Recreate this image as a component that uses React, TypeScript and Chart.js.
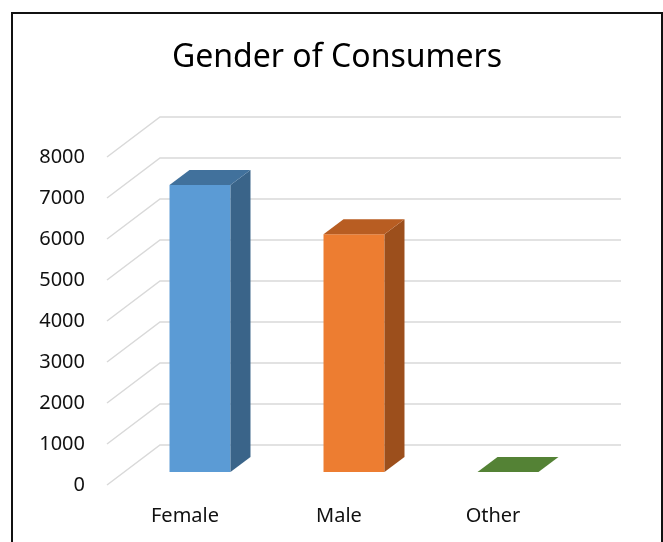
import React, { useEffect, useRef } from "react";
import { Chart, registerables } from "chart.js";

Chart.register(...registerables);

const titleText = "Gender of Consumers";
const categories = ["Female", "Male", "Other"];
const values = [7000, 5800, 0];
const yMin = 0;
const yMax = 8000;
const yStep = 1000;
const frontColors = ["#5B9BD5", "#ED7D31", "#70AD47"];
const topColors = ["#41719C", "#B85D22", "#548235"];
const sideColors = ["#3A6489", "#9C4F1C", "#4A7530"];

const FONT = "'Noto Sans', 'DejaVu Sans', sans-serif";

const threeD = {
  id: "threeD",
  beforeDatasetsDraw(chart: any) {
    const { ctx, chartArea, scales } = chart;
    const y = scales.y;
    ctx.save();
    ctx.strokeStyle = "#d9d9d9";
    ctx.lineWidth = 1.5;
    y.ticks.forEach((t: any) => {
      const py = y.getPixelForValue(t.value);
      ctx.beginPath();
      ctx.moveTo(chartArea.left - 16, py + 13);
      ctx.lineTo(chartArea.left + 37, py - 27);
      ctx.lineTo(chartArea.right + 36, py - 27);
      ctx.stroke();
    });
    ctx.restore();
  },
  afterDatasetsDraw(chart: any) {
    const { ctx } = chart;
    const meta = chart.getDatasetMeta(0);
    const dx = 20;
    const dy = -15;
    ctx.save();
    meta.data.forEach((bar: any, i: number) => {
      const { x, y, base, width } = bar.getProps(["x", "y", "base", "width"], true);
      const l = x - width / 2;
      const r = x + width / 2;
      ctx.fillStyle = sideColors[i];
      ctx.beginPath();
      ctx.moveTo(r, y);
      ctx.lineTo(r + dx, y + dy);
      ctx.lineTo(r + dx, base + dy);
      ctx.lineTo(r, base);
      ctx.closePath();
      ctx.fill();
      ctx.fillStyle = topColors[i];
      ctx.beginPath();
      ctx.moveTo(l, y);
      ctx.lineTo(l + dx, y + dy);
      ctx.lineTo(r + dx, y + dy);
      ctx.lineTo(r, y);
      ctx.closePath();
      ctx.fill();
    });
    ctx.restore();
  },
};

export default function App() {
  const ref = useRef<HTMLCanvasElement | null>(null);

  useEffect(() => {
    if (!ref.current) return;
    const chart = new Chart(ref.current, {
      type: "bar",
      data: {
        labels: categories,
        datasets: [
          {
            data: values,
            backgroundColor: frontColors,
            borderWidth: 0,
            barPercentage: 0.396,
            categoryPercentage: 1,
            yAxisID: "y",
          },
        ],
      },
      options: {
        responsive: false,
        animation: false,
        devicePixelRatio: 1,
        layout: { padding: 0 },
        plugins: {
          legend: { display: false },
          tooltip: { enabled: false },
          title: {
            display: true,
            text: titleText,
            color: "#000000",
            font: { family: FONT, size: 32, weight: "normal", lineHeight: 1.2 },
            padding: { top: 25, bottom: 66.6 },
          },
        },
        scales: {
          x: {
            grid: { display: false, drawTicks: false },
            border: { display: false },
            ticks: {
              color: "#111111",
              font: { family: FONT, size: 20 },
              padding: 32,
              labelOffset: -15,
              maxRotation: 0,
            },
            afterFit: (s: any) => {
              s.height = 70;
            },
          },
          y: {
            min: yMin,
            max: yMax,
            grid: { display: false, drawTicks: false },
            border: { display: false },
            ticks: {
              stepSize: yStep,
              color: "#111111",
              font: { family: FONT, size: 20 },
              padding: 38,
              labelOffset: 13,
              callback: (v: any) => String(v),
            },
            afterFit: (s: any) => {
              s.width = 110;
            },
          },
          yRight: {
            position: "right",
            display: true,
            min: yMin,
            max: yMax,
            grid: { display: false, drawTicks: false },
            border: { display: false },
            ticks: { display: false },
            afterFit: (s: any) => {
              s.width = 76;
            },
          },
        },
      },
      plugins: [threeD],
    });
    return () => chart.destroy();
  }, []);

  return (
    <div>
      <div
        style={{
          position: "absolute",
          left: 11,
          top: 12,
          width: 652,
          height: 540,
          border: "2px solid #111",
          boxSizing: "border-box",
          background: "#fff",
        }}
      />
      <canvas
        ref={ref}
        width={648}
        height={528}
        style={{ position: "absolute", left: 13, top: 14, width: 648, height: 528 }}
      />
    </div>
  );
}
